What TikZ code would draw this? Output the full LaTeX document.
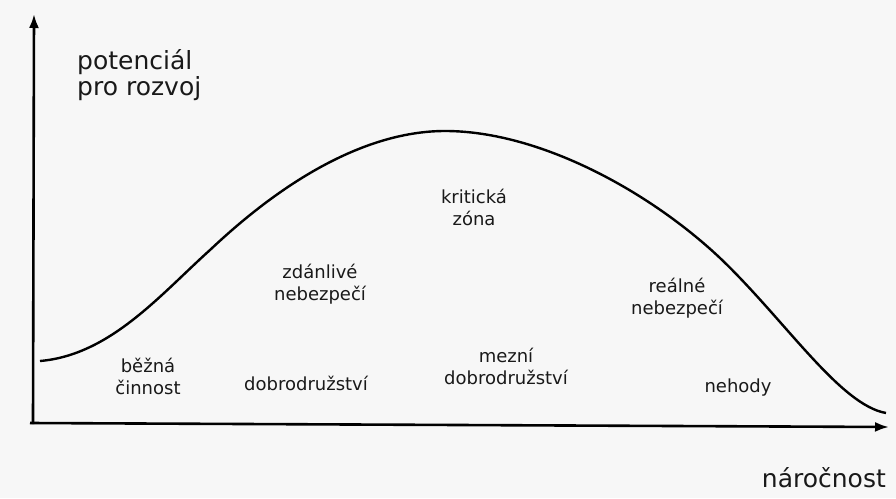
\documentclass[tikz,border=0pt]{standalone}
\usepackage{fontspec}
\setmainfont{DejaVu Sans}
\usetikzlibrary{arrows.meta}
\begin{document}
\begin{tikzpicture}[x=1pt,y=-1pt,
  axis/.style={line width=2.6pt,-{Latex[length=14pt,width=10pt]}},
  curve/.style={line width=2.4pt},
  biglabel/.style={inner sep=0pt,font=\fontsize{25}{26}\selectfont,align=left,text=black!90},
  lab/.style={inner sep=0pt,font=\fontsize{18}{22}\selectfont,align=center,text=black!90}]
\fill[black!3] (0,0) rectangle (896,498);
\useasboundingbox (0,0) rectangle (896,498);
\coordinate (o) at (33,424);
\coordinate (ytop) at (34,14);
\coordinate (xs) at (30,423);
\coordinate (xend) at (889,427);
\coordinate (c0) at (40,361);
\coordinate (c1) at (210,250);
\coordinate (c2) at (445,131);
\coordinate (c3) at (720,258);
\coordinate (c4) at (886,413);
\draw[axis] (o) -- (ytop);
\draw[axis] (xs) -- (xend);
\draw[curve] (c0) .. controls (110,355) and (160,295) .. (c1)
  .. controls (300,165) and (380,131) .. (c2)
  .. controls (540,131) and (650,192) .. (c3)
  .. controls (785,320) and (840,405) .. (c4);
\node[biglabel,anchor=north west] (ylab) at (77,49) {potenciál\\pro rozvoj};
\node[biglabel,anchor=base east] (xlab) at (886,487) {náročnost};
\node[lab] (bezna) at (148,376) {běžná\\činnost};
\node[lab] (zdan) at (320,284) {zdánlivé\\nebezpečí};
\node[lab] (dobro) at (306,383) {dobrodružství};
\node[lab] (krit) at (474,207) {kritická\\zóna};
\node[lab] (mezni) at (506,366) {mezní\\dobrodružství};
\node[lab] (real) at (677,298) {reálné\\nebezpečí};
\node[lab] (neh) at (738,388) {nehody};
\end{tikzpicture}
\end{document}
